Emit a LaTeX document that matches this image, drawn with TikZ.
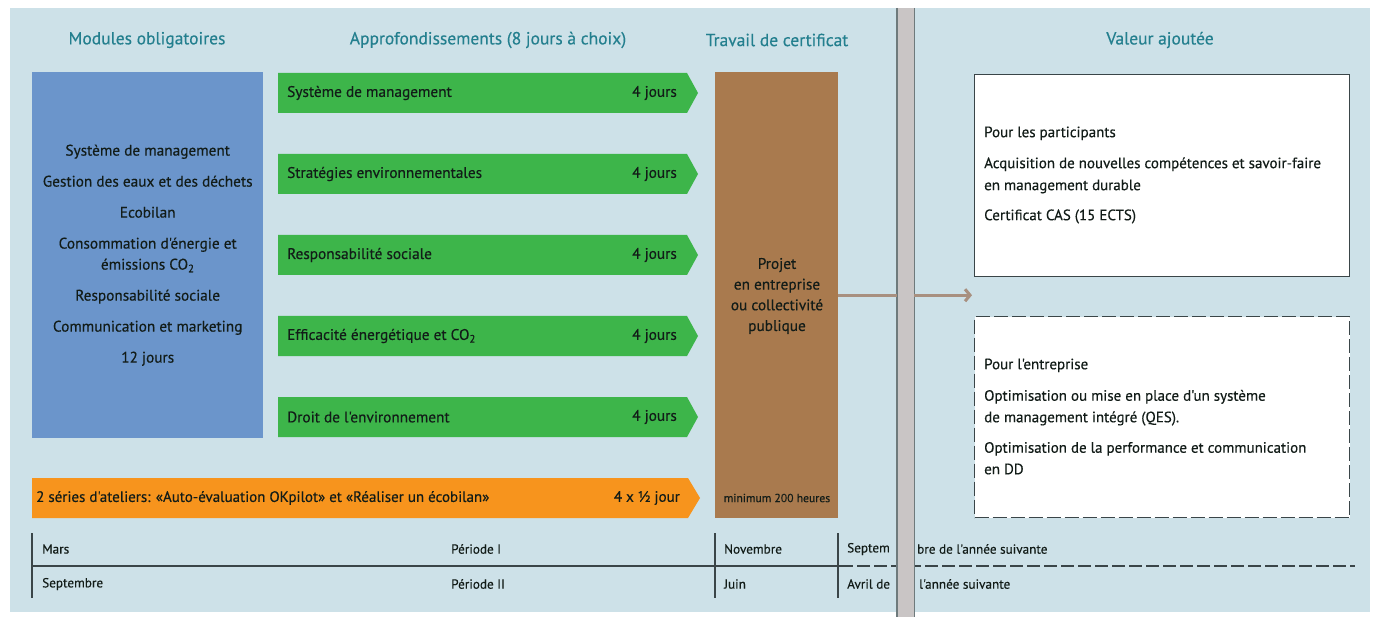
\documentclass[tikz,border=0pt]{standalone}
\usepackage{fontspec}
\setmainfont{PT Sans}
\newfontfamily\medfont{PT Sans}[FakeBold=0.35]
\usetikzlibrary{arrows.meta}
\definecolor{bgc}{HTML}{CDE1E8}
\definecolor{headc}{HTML}{237F8E}
\definecolor{bluec}{HTML}{6B95CB}
\definecolor{greenc}{HTML}{3DB54A}
\definecolor{orangec}{HTML}{F7941D}
\definecolor{brownc}{HTML}{A97A4E}
\definecolor{barc}{HTML}{C9C5C5}
\definecolor{baredge}{HTML}{6E7A7C}
\definecolor{arrc}{HTML}{A89080}
\definecolor{boxline}{HTML}{3A4548}
\definecolor{txt}{HTML}{121C18}
\tikzset{
  head/.style={text=headc, font=\medfont\fontsize{17.5}{20}\selectfont},
  body/.style={text=txt, font=\medfont\fontsize{15.3}{18}\selectfont, inner sep=0pt},
  tline/.style={draw=boxline, line width=1.3pt},
  valbox/.style={draw=boxline, fill=white, line width=1.4pt, minimum width=375pt, minimum height=202pt, anchor=north west, inner sep=0pt},
}
\begin{document}
\begin{tikzpicture}[x=1pt,y=-1pt]
\useasboundingbox (0,0) rectangle (1375,617);
\fill[bgc] (10,8) rectangle (1370,612);

% headers
\node[head] (h1) at (147,40) {Modules obligatoires};
\node[head] (h2) at (488,40) {Approfondissements (8 jours à choix)};
\node[head] (h3) at (777,40) {Travail de certificat};
\node[head] (h4) at (1160,40) {Valeur ajoutée};

% modules obligatoires
\node[fill=bluec, minimum width=231pt, minimum height=366pt, anchor=north west, inner sep=0pt] (mod) at (32,72) {};
\node[body, align=center, font=\medfont\fontsize{15.3}{21}\selectfont] (modt) at (mod.center)
 {Système de management\\[10pt]
  Gestion des eaux et des déchets\\[10pt]
  Ecobilan\\[10pt]
  Consommation d'énergie et\\
  émissions CO\textsubscript{2}\\[10pt]
  Responsabilité sociale\\[10pt]
  Communication et marketing\\[10pt]
  12 jours};

% approfondissements
\foreach \i/\lab in {0/{Système de management},1/{Stratégies environnementales},2/{Responsabilité sociale},3/{Efficacité énergétique et CO\textsubscript{2}},4/{Droit de l'environnement}} {
  \pgfmathsetmacro\yc{93+81*\i}
  \fill[greenc] (278,\yc-20) -- (687,\yc-20) -- (698,\yc) -- (687,\yc+20) -- (278,\yc+20) -- cycle;
  \node[body, anchor=west] (ap\i) at (287,\yc) {\lab};
  \node[body, anchor=east] (apd\i) at (677,\yc) {4 jours};
}

% ateliers
\fill[orangec] (32,478) -- (688,478) -- (700,498) -- (688,518) -- (32,518) -- cycle;
\node[body, anchor=west, font=\medfont\fontsize{15}{17}\selectfont] (at1) at (36,498) {2 séries d'ateliers: «Auto-évaluation OKpilot» et «Réaliser un écobilan»};
\node[body, anchor=east, font=\medfont\fontsize{15}{17}\selectfont] (at2) at (680,498) {4 x ½ jour};

% travail de certificat
\node[fill=brownc, minimum width=123pt, minimum height=446pt, anchor=north west, inner sep=0pt] (proj) at (715,72) {};
\node[body, align=center, font=\medfont\fontsize{15.3}{20.7}\selectfont] (projt) at (777,296) {Projet\\en entreprise\\ou collectivité\\publique};
\node[body, font=\medfont\fontsize{11.7}{13}\selectfont] (projm) at (777,498) {minimum 200 heures};

% valeur ajoutee
\node[valbox] (box1) at (974,74) {};
\node[body, anchor=west, align=left, font=\medfont\fontsize{15}{22}\selectfont] (box1t) at (984,175)
 {Pour les participants\\[9pt]
  Acquisition de nouvelles compétences et savoir-faire\\
  en management durable\\[8pt]
  Certificat CAS (15 ECTS)};
\node[valbox, minimum height=201pt, dash pattern=on 14pt off 4pt] (box2) at (974,316) {};
\node[body, anchor=west, align=left, font=\medfont\fontsize{15}{21.5}\selectfont] (box2t) at (984,416.5)
 {Pour l'entreprise\\[10pt]
  Optimisation ou mise en place d'un système\\
  de management intégré (QES).\\[9pt]
  Optimisation de la performance et communication\\
  en DD};

% timeline
\draw[tline] (32,533) -- (32,598);
\draw[tline] (715,533) -- (715,598);
\draw[tline] (838,533) -- (838,598);
\draw[tline] (32,566) -- (840,566);
\draw[tline, dash pattern=on 13pt off 4pt] (840,566) -- (1355,566);
\begin{scope}[every node/.style={body, anchor=west, font=\medfont\fontsize{13.2}{15}\selectfont}]
\node (t1) at (42,549) {Mars};
\node (t2) at (451,549) {Période I};
\node (t3) at (724,549) {Novembre};
\node (t4) at (847,549) {Septem};
\node (t5) at (917,549) {bre de l'année suivante};
\node (u1) at (42,584) {Septembre};
\node (u2) at (451,584) {Période II};
\node (u3) at (724,584) {Juin};
\node (u4) at (847,584) {Avril de};
\node (u5) at (919,584) {l'année suivante};
\end{scope}

% separator bar
\node[fill=barc, minimum width=17pt, minimum height=609pt, anchor=north west, inner sep=0pt] (bar) at (897,8) {};
\draw[baredge, line width=1.3pt] (bar.north west) -- (bar.south west);
\draw[baredge, line width=1.3pt] (bar.north east) -- (bar.south east);

% arrow
\draw[arrc, line width=3pt] (proj.east) -- (proj.east -| bar.west);
\draw[arrc, line width=3pt, -{Straight Barb[length=5pt,width=12pt]}] (proj.east -| bar.east) -- ([xshift=-2pt]proj.east -| box1.west);
\end{tikzpicture}
\end{document}
